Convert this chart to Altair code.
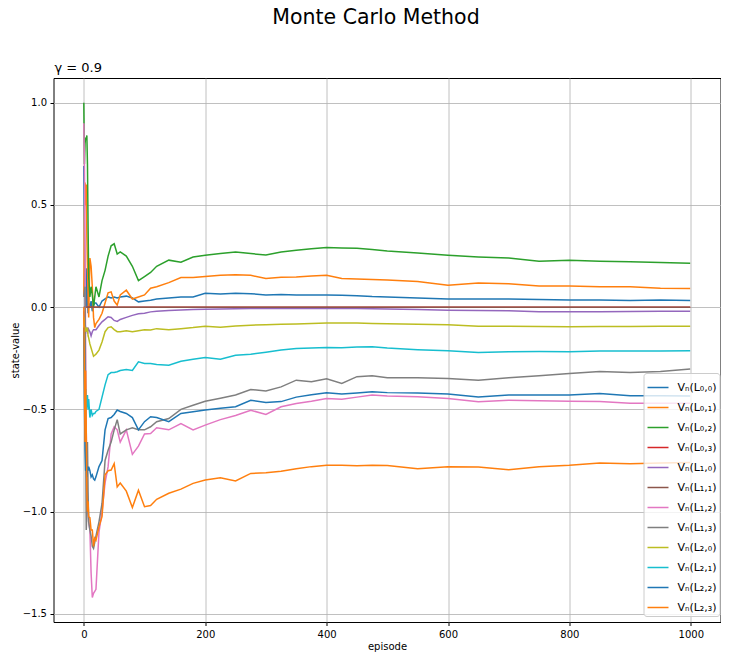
import altair as alt
import pandas as pd

TITLE = "Monte Carlo Method"
SUBTITLE = "γ = 0.9"

LABELS = ["Vₙ(L₀,₀)", "Vₙ(L₀,₁)", "Vₙ(L₀,₂)", "Vₙ(L₀,₃)",
          "Vₙ(L₁,₀)", "Vₙ(L₁,₁)", "Vₙ(L₁,₂)", "Vₙ(L₁,₃)",
          "Vₙ(L₂,₀)", "Vₙ(L₂,₁)", "Vₙ(L₂,₂)", "Vₙ(L₂,₃)"]
COLORS = ["#1f77b4", "#ff7f0e", "#2ca02c", "#d62728", "#9467bd", "#8c564b",
          "#e377c2", "#7f7f7f", "#bcbd22", "#17becf", "#1f77b4", "#ff7f0e"]

EPISODES = [0, 1, 2, 3, 4, 5, 6, 7, 8, 10, 12, 14, 16, 18, 20, 25, 30, 35, 40, 45,
            50, 55, 60, 70, 80, 90, 100, 110, 120, 140, 160, 180, 200, 225, 250,
            275, 300, 325, 350, 375, 400, 425, 450, 475, 500, 550, 600, 650, 700,
            750, 800, 850, 900, 950, 999]

L00 = [0.69, 0.35, 0.05, 0.15, 0.0, 0.19, 0.06, -0.03, 0.02, 0.0, 0.03, -0.02, 0.01, 0.02,
       0.02, 0.0, 0.03, 0.04, 0.05, 0.045, 0.05, 0.045, 0.05, 0.054, 0.045, 0.026, 0.03,
       0.034, 0.04, 0.045, 0.05, 0.05, 0.068, 0.065, 0.068, 0.066, 0.06, 0.062, 0.06,
       0.06, 0.059, 0.058, 0.056, 0.052, 0.05, 0.045, 0.04, 0.04, 0.04, 0.037, 0.035,
       0.035, 0.033, 0.035, 0.033]
L01 = [0.05, 0.45, 0.61, 0.5, 0.6, 0.35, 0.2, 0.05, -0.05, 0.24, 0.2, 0.1, -0.05, -0.1,
       -0.08, -0.06, -0.03, 0.02, 0.07, 0.075, 0.03, 0.01, 0.06, 0.083, 0.04, 0.05, 0.06,
       0.093, 0.1, 0.12, 0.145, 0.145, 0.15, 0.156, 0.158, 0.156, 0.14, 0.146, 0.148,
       0.152, 0.156, 0.14, 0.138, 0.135, 0.133, 0.126, 0.107, 0.118, 0.115, 0.103, 0.103,
       0.1, 0.1, 0.092, 0.091]
L02 = [1.0, 0.7, 0.8, 0.83, 0.82, 0.84, 0.7, 0.4, 0.15, 0.05, 0.1, 0.06, 0.0, 0.05, 0.1,
       0.05, 0.13, 0.18, 0.25, 0.3, 0.31, 0.26, 0.27, 0.25, 0.2, 0.13, 0.15, 0.17, 0.2,
       0.23, 0.22, 0.245, 0.254, 0.262, 0.27, 0.262, 0.255, 0.27, 0.278, 0.286, 0.292,
       0.29, 0.288, 0.282, 0.275, 0.265, 0.254, 0.246, 0.24, 0.225, 0.23, 0.225, 0.222,
       0.218, 0.215]
L03 = [0.0] * 55
L10 = [-0.02, -0.05, -0.08, -0.1, -0.12, -0.1, -0.13, -0.1, -0.11, -0.12, -0.14, -0.12,
       -0.11, -0.11, -0.11, -0.09, -0.072, -0.06, -0.047, -0.05, -0.065, -0.07, -0.06,
       -0.05, -0.04, -0.032, -0.03, -0.023, -0.02, -0.016, -0.014, -0.012, -0.01, -0.009,
       -0.008, -0.007, -0.007, -0.006, -0.006, -0.006, -0.007, -0.007, -0.007, -0.008,
       -0.009, -0.011, -0.015, -0.016, -0.018, -0.022, -0.023, -0.022, -0.021, -0.02, -0.02]
L11 = [0.0] * 55
L12 = [0.9, 0.7, 0.3, -0.2, -0.6, -0.8, -0.95, -1.0, -1.05, -1.09, -1.3, -1.42, -1.4,
       -1.39, -1.38, -1.1, -1.0, -0.86, -0.78, -0.62, -0.585, -0.6, -0.66, -0.6, -0.72,
       -0.68, -0.62, -0.618, -0.59, -0.6, -0.569, -0.6, -0.577, -0.55, -0.53, -0.504,
       -0.525, -0.487, -0.471, -0.46, -0.447, -0.45, -0.44, -0.43, -0.435, -0.438, -0.447,
       -0.463, -0.455, -0.458, -0.46, -0.462, -0.47, -0.47, -0.47]
L13 = [0.05, 0.08, 0.1, -0.65, -1.09, -1.0, -0.66, -0.9, -1.05, -1.09, -1.12, -1.17,
       -1.18, -1.15, -1.12, -1.05, -0.96, -0.75, -0.7, -0.66, -0.6, -0.55, -0.62, -0.6,
       -0.59, -0.6, -0.6, -0.585, -0.56, -0.545, -0.5, -0.48, -0.46, -0.445, -0.43, -0.403,
       -0.41, -0.39, -0.357, -0.365, -0.35, -0.373, -0.34, -0.335, -0.345, -0.345, -0.349,
       -0.357, -0.345, -0.335, -0.324, -0.315, -0.32, -0.315, -0.303]
L20 = [-0.05, -0.1, -0.1, -0.12, -0.1, -0.12, -0.1, -0.14, -0.15, -0.18, -0.2, -0.22,
       -0.24, -0.235, -0.23, -0.21, -0.17, -0.12, -0.1, -0.096, -0.11, -0.12, -0.12,
       -0.115, -0.12, -0.115, -0.11, -0.112, -0.105, -0.11, -0.105, -0.1, -0.093, -0.098,
       -0.092, -0.088, -0.086, -0.084, -0.082, -0.08, -0.078, -0.077, -0.078, -0.08,
       -0.081, -0.084, -0.086, -0.093, -0.093, -0.094, -0.096, -0.095, -0.094, -0.093, -0.093]
L21 = [-0.12, -0.3, -0.45, -0.4, -0.5, -0.45, -0.43, -0.5, -0.45, -0.54, -0.5, -0.53,
       -0.52, -0.52, -0.51, -0.5, -0.44, -0.38, -0.33, -0.32, -0.32, -0.316, -0.31,
       -0.305, -0.31, -0.267, -0.275, -0.275, -0.28, -0.284, -0.265, -0.255, -0.246,
       -0.255, -0.235, -0.23, -0.22, -0.21, -0.202, -0.2, -0.197, -0.198, -0.195, -0.194,
       -0.2, -0.208, -0.213, -0.222, -0.218, -0.217, -0.218, -0.215, -0.214, -0.214, -0.213]
L22 = [-0.1, -0.45, -0.7, -0.8, -0.75, -0.83, -0.78, -0.8, -0.78, -0.8, -0.83, -0.82,
       -0.84, -0.846, -0.83, -0.78, -0.75, -0.6, -0.545, -0.54, -0.525, -0.503, -0.51,
       -0.52, -0.54, -0.6, -0.56, -0.536, -0.54, -0.56, -0.52, -0.512, -0.503, -0.495,
       -0.487, -0.455, -0.466, -0.462, -0.44, -0.428, -0.419, -0.425, -0.42, -0.414,
       -0.418, -0.42, -0.425, -0.439, -0.43, -0.43, -0.43, -0.422, -0.433, -0.433, -0.435]
L23 = [0.0, -0.35, -0.66, -0.31, -0.6, -0.9, -1.0, -0.95, -1.025, -1.03, -1.09, -1.09,
       -1.17, -1.13, -1.14, -1.074, -1.025, -0.82, -0.8, -0.797, -0.765, -0.879, -0.86,
       -0.9, -0.98, -0.895, -0.976, -0.97, -0.94, -0.91, -0.89, -0.862, -0.845, -0.835,
       -0.85, -0.813, -0.81, -0.803, -0.79, -0.78, -0.773, -0.773, -0.776, -0.773, -0.775,
       -0.79, -0.78, -0.782, -0.795, -0.78, -0.773, -0.762, -0.766, -0.762, -0.76]

SERIES = [L00, L01, L02, L03, L10, L11, L12, L13, L20, L21, L22, L23]

X_TICKS = [0, 200, 400, 600, 800, 1000]
Y_TICKS = [-1.5, -1.0, -0.5, 0.0, 0.5, 1.0]

rows = []
for k, (lab, vals) in enumerate(zip(LABELS, SERIES)):
    for e, v in zip(EPISODES, vals):
        rows.append({"series": lab, "k": k, "episode": e, "value": v})
df = pd.DataFrame(rows)

FONT = "DejaVu Sans"

lines = alt.Chart(df).mark_line(strokeWidth=1.5).encode(
    x=alt.X("episode:Q",
            scale=alt.Scale(domain=[-49.95, 1048.95], nice=False, zero=False),
            axis=alt.Axis(values=X_TICKS, title="episode", format="d")),
    y=alt.Y("value:Q",
            scale=alt.Scale(domain=[-1.54, 1.121], nice=False, zero=False),
            axis=alt.Axis(values=Y_TICKS, title="state-value", format=".1f")),
    color=alt.Color("series:N",
                    scale=alt.Scale(domain=LABELS, range=COLORS),
                    legend=alt.Legend(title=None, orient="none",
                                      legendX=590, legendY=295)),
    detail="k:O",
)

sub = alt.Chart(pd.DataFrame({"t": [SUBTITLE]})).mark_text(
    align="left", baseline="alphabetic", fontSize=13, font=FONT, color="black"
).encode(x=alt.value(1), y=alt.value(-6), text="t:N")

chart = alt.layer(lines, sub).properties(
    width=667, height=544,
    title=alt.TitleParams(TITLE, anchor="middle", fontSize=20.5, font=FONT,
                          fontWeight="normal", color="black", dx=-11, offset=34),
    autosize=alt.AutoSizeParams(type="none"),
    padding={"left": 45.5, "top": 70, "right": 0, "bottom": 30},
).configure_view(
    stroke="black", strokeWidth=1
).configure_axis(
    labelFont=FONT, titleFont=FONT, labelFontSize=10, titleFontSize=10,
    titleFontWeight="normal", labelColor="black", titleColor="black",
    tickColor="black", tickSize=3.5, labelPadding=3.5, domain=False,
    gridColor="#b0b0b0", gridWidth=0.8, titlePadding=2
).configure_legend(
    fillColor="rgba(255,255,255,0.8)", strokeColor="#cccccc", cornerRadius=3,
    padding=3, symbolType="stroke", symbolSize=441, symbolStrokeWidth=1.5,
    labelFont=FONT, labelFontSize=11, labelColor="black", rowPadding=3,
    labelOffset=8
)

chart.save("out.html", embed_options={"renderer": "svg", "actions": False})
